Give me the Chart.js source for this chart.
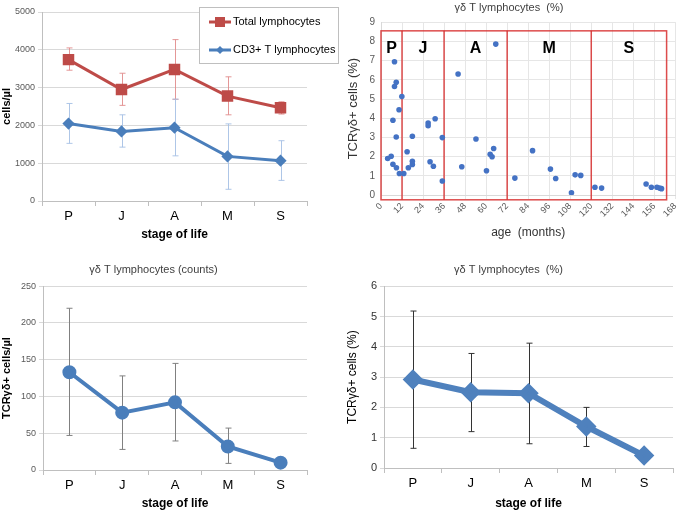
<!DOCTYPE html>
<html>
<head>
<meta charset="utf-8">
<script src="https://cdn.jsdelivr.net/npm/chart.js@4.4.1/dist/chart.umd.min.js"></script>
<style>
  body { margin: 0; background: #fff; }
  canvas { position: absolute; }
</style>
</head>
<body>
<canvas id="c1" width="340" height="250" style="left:0;top:0"></canvas>
<canvas id="c2" width="345" height="250" style="left:340px;top:0"></canvas>
<canvas id="c3" width="340" height="259" style="left:0;top:255px"></canvas>
<canvas id="c4" width="345" height="259" style="left:340px;top:255px"></canvas>
<script>
// DATA
const stages = ['P', 'J', 'A', 'M', 'S'];

const totalMean = [3740, 2950, 3480, 2775, 2465];
const totalLow  = [3460, 2530, 2690, 2280, 2300];
const totalHigh = [4050, 3380, 4270, 3285, 2625];

const cd3Mean = [2050, 1840, 1940, 1180, 1065];
const cd3Low  = [1525, 1425, 1195, 310, 545];
const cd3High = [2580, 2280, 2695, 2040, 1595];

const gdCountMean = [133, 78, 92, 32, 10];
const gdCountLow  = [47, 28, 39.5, 9, null];
const gdCountHigh = [220, 128, 145, 57, null];

const gdPctMean = [2.92, 2.5, 2.47, 1.37, 0.41];
const gdPctLow  = [0.65, 1.2, 0.8, 0.71, null];
const gdPctHigh = [5.18, 3.78, 4.12, 2.0, null];

const ageMonths = [3.8, 5.8, 6.8, 6.8, 7.7, 7.7, 8.7, 8.7, 8.8, 10.3, 10.5, 11.9, 13,
  14.9, 15.6, 17.9, 17.9, 17.9, 26.9, 26.9, 28, 29.9, 30.9, 35, 35,
  44, 46.1, 54.2, 60.2, 62.3, 63.4, 64.3, 65.5,
  76.4, 86.5, 96.7, 99.7, 108.7, 110.8, 114,
  122.1, 125.9, 151.3, 154.3, 157.5, 159, 160.1];
const tcrPct = [1.9, 2.02, 1.6, 3.89, 6.94, 5.65, 5.87, 3.02, 1.42, 4.44, 1.12, 5.13, 1.12,
  2.25, 1.42, 3.06, 1.76, 1.59, 3.75, 3.61, 1.73, 1.5, 3.97, 2.99, 0.73,
  6.3, 1.47, 2.92, 1.26, 2.12, 1.99, 2.42, 7.86,
  0.88, 2.31, 1.35, 0.86, 0.12, 1.05, 1.02,
  0.4, 0.36, 0.57, 0.4, 0.4, 0.36, 0.33];

const regionEdges = [0, 12, 36, 72, 120, 163];
const regionNames = ['P', 'J', 'A', 'M', 'S'];
const regionTop = 8.55, regionBottom = -0.25, regionLabelY = 7.6;

// STYLE
const F = "'Liberation Sans', Arial, sans-serif";
const RED = '#be4b48';
const BLUE = '#4a7ebb';
Chart.defaults.animation = false;
Chart.defaults.plugins.tooltip.enabled = false;

// error bars from errLow / errHigh on a dataset
const errorBars = {
  id: 'errorBars',
  beforeDatasetsDraw(chart) {
    const ctx = chart.ctx, ys = chart.scales.y;
    chart.data.datasets.forEach((ds, i) => {
      if (!ds.errLow) return;
      const meta = chart.getDatasetMeta(i);
      ctx.save();
      ctx.strokeStyle = ds.errColor;
      ctx.lineWidth = 1;
      meta.data.forEach((pt, j) => {
        if (ds.errLow[j] == null) return;
        const x = Math.round(pt.x) + 0.5;
        const y1 = ys.getPixelForValue(ds.errLow[j]);
        const y2 = ys.getPixelForValue(ds.errHigh[j]);
        ctx.beginPath();
        ctx.moveTo(x, y1); ctx.lineTo(x, y2);
        ctx.moveTo(x - 3, y1); ctx.lineTo(x + 3, y1);
        ctx.moveTo(x - 3, y2); ctx.lineTo(x + 3, y2);
        ctx.stroke();
      });
      ctx.restore();
    });
  }
};

// boxed legend for the first chart
const boxLegend = {
  id: 'boxLegend',
  afterDraw(chart) {
    const ctx = chart.ctx;
    ctx.save();
    ctx.fillStyle = '#fff';
    ctx.strokeStyle = '#bfbfbf';
    ctx.lineWidth = 1;
    ctx.fillRect(199.5, 7.5, 139, 56);
    ctx.strokeRect(199.5, 7.5, 139, 56);
    chart.data.datasets.forEach((ds, i) => {
      const y = 22 + i * 28;
      ctx.strokeStyle = ds.borderColor;
      ctx.lineWidth = 3;
      ctx.beginPath(); ctx.moveTo(209, y); ctx.lineTo(231, y); ctx.stroke();
      ctx.fillStyle = ds.borderColor;
      if (ds.pointStyle === 'rect') {
        ctx.fillRect(215, y - 5, 10, 10);
      } else {
        ctx.beginPath();
        ctx.moveTo(220, y - 4); ctx.lineTo(224, y); ctx.lineTo(220, y + 4); ctx.lineTo(216, y);
        ctx.closePath(); ctx.fill();
      }
      ctx.fillStyle = '#000';
      ctx.font = '11px ' + F;
      ctx.textBaseline = 'middle';
      ctx.fillText(ds.label, 233, y);
    });
    ctx.restore();
  }
};

// P/J/A/M/S boxes on the scatter
const regionBoxes = {
  id: 'regionBoxes',
  beforeDatasetsDraw(chart) {
    const ctx = chart.ctx, xs = chart.scales.x, ys = chart.scales.y;
    const top = ys.getPixelForValue(regionTop), bot = ys.getPixelForValue(regionBottom);
    ctx.save();
    ctx.strokeStyle = 'rgba(215,45,45,0.85)';
    ctx.lineWidth = 1.5;
    ctx.strokeRect(xs.getPixelForValue(regionEdges[0]), top,
      xs.getPixelForValue(regionEdges[regionEdges.length - 1]) - xs.getPixelForValue(regionEdges[0]), bot - top);
    ctx.beginPath();
    for (let k = 1; k < regionEdges.length - 1; k++) {
      const x = xs.getPixelForValue(regionEdges[k]);
      ctx.moveTo(x, top); ctx.lineTo(x, bot);
    }
    ctx.stroke();
    ctx.fillStyle = '#000';
    ctx.font = 'bold 16px ' + F;
    ctx.textAlign = 'center';
    ctx.textBaseline = 'middle';
    regionNames.forEach((n, k) => {
      const x = xs.getPixelForValue((regionEdges[k] + regionEdges[k + 1]) / 2);
      ctx.fillText(n, x, ys.getPixelForValue(regionLabelY));
    });
    ctx.restore();
  }
};

function stageAxis(height, padBottom, tickSize) {
  return {
    type: 'category',
    offset: true,
    grid: { offset: true, drawOnChartArea: false, drawTicks: true, tickLength: 5, color: '#bfbfbf' },
    border: { color: '#bfbfbf' },
    ticks: { color: '#000', font: { family: F, size: tickSize }, padding: 3 },
    title: { display: true, text: 'stage of life', color: '#000',
      font: { family: F, size: 12, weight: 'bold' }, padding: { top: 0, bottom: padBottom } },
    afterFit(s) { s.height = height; }
  };
}

function valueAxis(max, step, width, titleText, titleFont, titlePad, tickFont, tickColor) {
  return {
    min: 0, max: max,
    ticks: { stepSize: step, color: tickColor, font: { family: F, size: tickFont }, padding: 3,
      callback: v => String(v) },
    grid: { color: '#d9d9d9', tickLength: 4 },
    border: { color: '#bfbfbf' },
    title: { display: true, text: titleText, color: '#000', font: titleFont, padding: { top: titlePad, bottom: 0 } },
    afterFit(s) { s.width = width; }
  };
}

// 1: total and CD3+ lymphocytes
new Chart(document.getElementById('c1'), {
  type: 'line',
  data: {
    labels: stages,
    datasets: [
      { label: 'Total lymphocytes', data: totalMean, borderColor: RED, backgroundColor: RED,
        borderWidth: 3, pointStyle: 'rect', pointRadius: 6, errLow: totalLow, errHigh: totalHigh,
        errColor: 'rgba(225,140,140,0.9)' },
      { label: 'CD3+ T lymphocytes', data: cd3Mean, borderColor: BLUE, backgroundColor: BLUE,
        borderWidth: 3, pointStyle: 'rectRot', pointRadius: 4, errLow: cd3Low, errHigh: cd3High,
        errColor: 'rgba(165,192,228,0.9)' }
    ]
  },
  options: {
    responsive: false,
    layout: { padding: { top: 12, right: 33, left: 0, bottom: 0 } },
    plugins: { legend: { display: false } },
    scales: {
      x: stageAxis(49, 8, 13),
      y: valueAxis(5000, 1000, 42, 'cells/µl', { family: F, size: 11, weight: 'bold' }, 0, 9, '#595959')
    }
  },
  plugins: [errorBars, boxLegend]
});

// 2: scatter by age
new Chart(document.getElementById('c2'), {
  type: 'scatter',
  data: {
    datasets: [{
      data: ageMonths.map((a, i) => ({ x: a, y: tcrPct[i] })),
      backgroundColor: '#4472c4', borderWidth: 0, pointRadius: 2.8
    }]
  },
  options: {
    responsive: false,
    layout: { padding: { top: 0, right: 7, left: 0, bottom: 0 } },
    plugins: {
      legend: { display: false },
      title: { display: true, text: 'γδ T lymphocytes  (%)', color: '#404040',
        font: { family: F, size: 11, weight: 'normal' }, padding: { top: 1, bottom: 8 } }
    },
    scales: {
      x: {
        type: 'linear', min: 0, max: 168,
        ticks: { stepSize: 12, minRotation: 45, maxRotation: 45, color: '#595959', font: { family: F, size: 9 }, padding: 2 },
        grid: { color: '#e6e6e6', tickLength: 4 },
        border: { color: '#d9d9d9' },
        title: { display: true, text: 'age  (months)', color: '#333', font: { family: F, size: 12 }, padding: { top: 0, bottom: 10 } },
        afterFit(s) { s.height = 55; }
      },
      y: {
        min: 0, max: 9,
        ticks: { stepSize: 1, color: '#595959', font: { family: F, size: 10 }, padding: 6 },
        grid: { color: '#e6e6e6', tickLength: 0 },
        border: { color: '#d9d9d9' },
        title: { display: true, text: 'TCRγδ+ cells (%)', color: '#333', font: { family: F, size: 13 }, padding: { top: 6, bottom: 0 } },
        afterFit(s) { s.width = 41; }
      }
    }
  },
  plugins: [regionBoxes]
});

// 3: γδ counts by stage
new Chart(document.getElementById('c3'), {
  type: 'line',
  data: {
    labels: stages,
    datasets: [{
      data: gdCountMean, borderColor: BLUE, backgroundColor: BLUE, borderWidth: 4,
      pointRadius: 5, errLow: gdCountLow, errHigh: gdCountHigh, errColor: '#808080'
    }]
  },
  options: {
    responsive: false,
    layout: { padding: { top: 0, right: 33, left: 0, bottom: 0 } },
    plugins: {
      legend: { display: false },
      title: { display: true, text: 'γδ T lymphocytes (counts)', color: '#404040',
        font: { family: F, size: 11, weight: 'normal' }, padding: { top: 8, bottom: 10 } }
    },
    scales: {
      x: stageAxis(44, 3, 13),
      y: valueAxis(250, 50, 43, 'TCRγδ+ cells/µl', { family: F, size: 11, weight: 'bold' }, 0, 9, '#595959')
    }
  },
  plugins: [errorBars]
});

// 4: γδ percent by stage
new Chart(document.getElementById('c4'), {
  type: 'line',
  data: {
    labels: stages,
    datasets: [{
      data: gdPctMean, borderColor: '#4f81bd', backgroundColor: '#4f81bd', borderWidth: 6,
      pointStyle: 'rectRot', pointRadius: 6, errLow: gdPctLow, errHigh: gdPctHigh, errColor: '#333'
    }]
  },
  options: {
    responsive: false,
    layout: { padding: { top: 0, right: 8, left: 0, bottom: 0 } },
    plugins: {
      legend: { display: false },
      title: { display: true, text: 'γδ T lymphocytes  (%)', color: '#404040',
        font: { family: F, size: 11, weight: 'normal' }, padding: { top: 8, bottom: 10 } }
    },
    scales: {
      x: stageAxis(46, 3, 13),
      y: valueAxis(6, 1, 44, 'TCRγδ+ cells (%)', { family: F, size: 12 }, 5, 11, '#333')
    }
  },
  plugins: [errorBars]
});
</script>
</body>
</html>
